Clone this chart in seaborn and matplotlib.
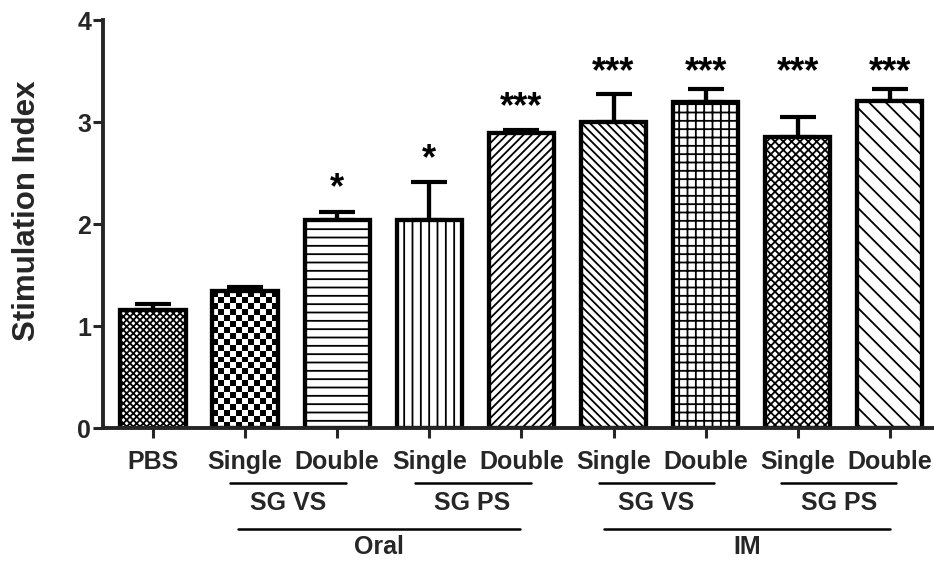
import matplotlib
matplotlib.use("Agg")
import matplotlib.pyplot as plt
import matplotlib.transforms as mtransforms
import seaborn as sns
import numpy as np
import pandas as pd

groups = ["PBS", "Oral SG VS Single", "Oral SG VS Double", "Oral SG PS Single",
          "Oral SG PS Double", "IM SG VS Single", "IM SG VS Double",
          "IM SG PS Single", "IM SG PS Double"]
tick_labels = ["PBS", "Single", "Double", "Single", "Double",
               "Single", "Double", "Single", "Double"]
means = [1.16, 1.34, 2.04, 2.04, 2.89, 3.00, 3.20, 2.85, 3.21]
sems = [0.06, 0.04, 0.08, 0.37, 0.03, 0.28, 0.13, 0.20, 0.12]
stars = ["", "", "*", "*", "***", "***", "***", "***", "***"]
hatches = ["xxxxx", "", "--", "||", "////", "\\\\\\\\", "++", "xxxx", "\\\\"]

sub_labels = ["SG VS", "SG PS", "SG VS", "SG PS"]
sub_spans = [(0.84, 2.10), (2.84, 4.10), (4.84, 6.09), (6.82, 8.07)]
route_labels = ["Oral", "IM"]
route_spans = [(0.92, 3.99), (4.90, 8.00)]

sns.set_theme(style="ticks")
plt.rcParams['font.family'] = ['Liberation Sans', 'DejaVu Sans']
plt.rcParams['hatch.linewidth'] = 1.3

df = pd.DataFrame({"group": groups, "value": means})

fig = plt.figure(figsize=(9.34, 5.61), dpi=100)
ax = fig.add_axes([0.1103, 0.237, 0.8897, 0.727])

sns.barplot(data=df, x="group", y="value", order=groups, color="white",
            edgecolor="black", linewidth=3.1, width=0.71, ax=ax,
            errorbar=None, saturation=1)

bars = list(ax.patches)
for patch, h in zip(bars, hatches):
    patch.set_hatch(h)
    patch.set_facecolor("white")
    patch.set_edgecolor("black")
    patch.set_zorder(2)

# coarse checkerboard fill for the second bar
p = bars[1]
p.set_facecolor("none")
x0, w, hgt = p.get_x(), p.get_width(), p.get_height()
ncol = 11
nrow = int(round(hgt / 0.059))
checker = np.add.outer(np.arange(nrow), np.arange(ncol)) % 2
im = ax.imshow(checker, cmap="gray", vmin=0, vmax=1, extent=(x0, x0 + w, 0, hgt),
               aspect="auto", interpolation="nearest", zorder=1.5, origin="lower")
im.set_clip_path(p)

xs = np.arange(len(groups))
ax.errorbar(xs, means, yerr=[np.zeros(len(sems)), sems], fmt="none",
            ecolor="black", elinewidth=3.1, capsize=13, capthick=3.0, zorder=1)

tops = np.array(means) + np.array(sems)
im_top = tops[5:].max()
for i, s in enumerate(stars):
    if not s:
        continue
    center = (im_top + 0.26) if i >= 5 else (tops[i] + 0.33)
    ax.text(xs[i], center - 0.2, s, ha="center", va="baseline", fontsize=26,
            fontweight="bold", color="black")

ax.set_xlim(-0.543, 8.48)
ax.set_ylim(0, 4)
ax.set_yticks([0, 1, 2, 3, 4])
ax.set_xticks(xs)
ax.set_xticklabels(tick_labels, fontsize=18, fontweight="bold")
ax.tick_params(axis="x", length=7, width=2.2, pad=9)
ax.tick_params(axis="y", length=7, width=2.2, labelsize=18, pad=1.5)
for lab in ax.get_yticklabels():
    lab.set_fontweight("bold")
ax.set_xlabel("")
ax.set_ylabel("Stimulation Index", fontsize=22.5, fontweight="bold")
ax.yaxis.set_label_coords(-0.073, 0.534)
sns.despine(ax=ax)
for sp in ["left", "bottom"]:
    ax.spines[sp].set_linewidth(2.8)

trans = mtransforms.blended_transform_factory(ax.transData, ax.transAxes)
y_sub_line = -0.135
y_sub_text = -0.184
y_route_line = -0.2475
y_route_text = -0.292
for lab, (a, b) in zip(sub_labels, sub_spans):
    ax.plot([a, b], [y_sub_line, y_sub_line], transform=trans, color="black",
            lw=1.8, clip_on=False)
    ax.text((a + b) / 2, y_sub_text, lab, transform=trans, ha="center",
            va="center", fontsize=18, fontweight="bold")
for lab, (a, b) in zip(route_labels, route_spans):
    ax.plot([a, b], [y_route_line, y_route_line], transform=trans,
            color="black", lw=1.8, clip_on=False)
    ax.text((a + b) / 2, y_route_text, lab, transform=trans, ha="center",
            va="center", fontsize=18, fontweight="bold")

fig.savefig("out.png", dpi=100)
